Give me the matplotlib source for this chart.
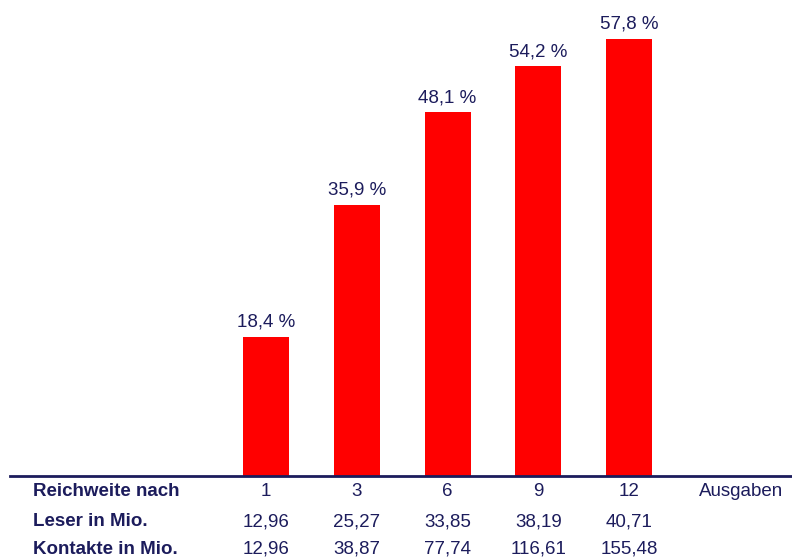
import numpy as np
import matplotlib.pyplot as plt

ausgaben = ["1", "3", "6", "9", "12"]
reichweite = [18.4, 35.9, 48.1, 54.2, 57.8]
leser = ["12,96", "25,27", "33,85", "38,19", "40,71"]
kontakte = ["12,96", "38,87", "77,74", "116,61", "155,48"]

navy = "#1c1c5c"
red = "#ff0000"
plt.rcParams['font.family'] = ['Liberation Sans', 'DejaVu Sans']

fig = plt.figure(figsize=(7.92, 5.57), dpi=100)
W, H = 792, 557
base = 476
# axes from x=10px to right edge, baseline at y=476px
ax = fig.add_axes([10 / W, 1 - base / H, 1 - 10 / W, base / H])

step = 90.75
x = np.arange(len(ausgaben))
ax.bar(x, reichweite, width=46 / step, color=red)
ax.set_xlim((10 - 266) / step, (W - 266) / step)
ax.set_ylim(0, base / 7.56)

for xi, v in zip(x, reichweite):
    ax.text(xi, v + 0.8, f"{v:.1f} %".replace(".", ","), ha="center", va="bottom",
            color=navy, fontsize=13.5)

for s in ["top", "right", "left"]:
    ax.spines[s].set_visible(False)
ax.spines["bottom"].set_color(navy)
ax.spines["bottom"].set_linewidth(2)
ax.set_xticks([])
ax.set_yticks([])

# table below the baseline
rows = [("Reichweite nach", ausgaben, 491), ("Leser in Mio.", leser, 522),
        ("Kontakte in Mio.", kontakte, 549)]
for label, vals, ypx in rows:
    fig.text(33 / W, 1 - ypx / H, label, ha="left", va="center",
             color=navy, fontsize=13.5, fontweight="bold")
    for xi, v in zip(x, vals):
        xp = 266 + xi * step
        fig.text(xp / W, 1 - ypx / H, v, ha="center", va="center",
                 color=navy, fontsize=13.5)
fig.text(741 / W, 1 - 491 / H, "Ausgaben", ha="center", va="center",
         color=navy, fontsize=13.5)

fig.savefig("out.png", dpi=100)
